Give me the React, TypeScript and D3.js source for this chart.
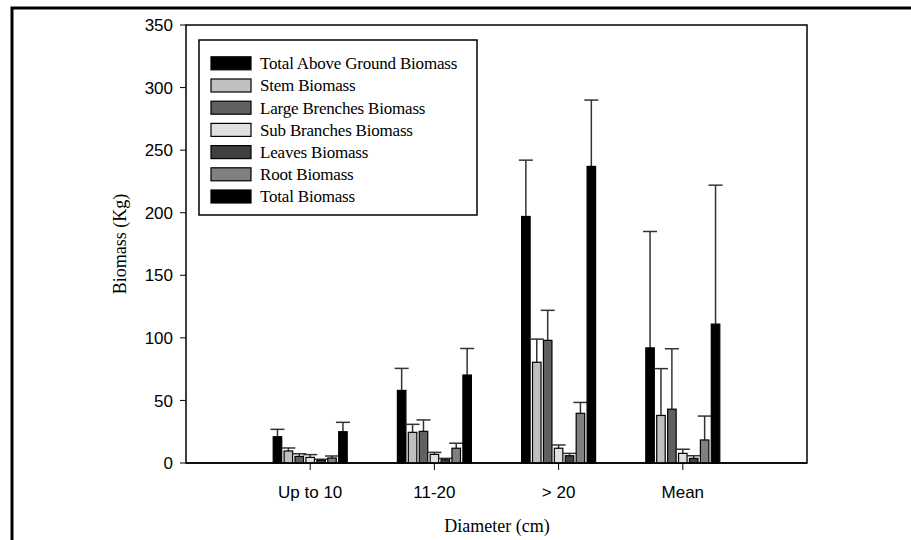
import React from 'react';
import * as d3 from 'd3';

const categories = ['Up to 10', '11-20', '> 20', 'Mean'];
const seriesNames = [
  'Total Above Ground Biomass',
  'Stem Biomass',
  'Large Brenches Biomass',
  'Sub Branches Biomass',
  'Leaves Biomass',
  'Root Biomass',
  'Total Biomass',
];
const seriesColors = ['#000000', '#c0c0c0', '#606060', '#e0e0e0', '#404040', '#808080', '#000000'];

// values per series, one per category
const tagb = [21, 58, 197, 92];
const stem = [9.6, 24.5, 80.5, 38];
const largeBranches = [5.3, 25.3, 98, 43];
const subBranches = [4.5, 6.9, 11.8, 7.7];
const leaves = [2.1, 2.6, 5.8, 3.7];
const root = [4, 11.8, 39.7, 18.4];
const total = [25, 70.3, 237, 111];

// upper end of the error bars
const tagbErr = [26.9, 75.6, 242, 185];
const stemErr = [12, 30.9, 99, 75.4];
const largeBranchesErr = [7.4, 34.4, 122, 91.3];
const subBranchesErr = [6.7, 8.5, 14.4, 11];
const leavesErr = [3, 3.7, 7.7, 5.8];
const rootErr = [5.6, 15.8, 48.4, 37.5];
const totalErr = [32.5, 91.5, 290, 222];

const values = [tagb, stem, largeBranches, subBranches, leaves, root, total];
const errors = [tagbErr, stemErr, largeBranchesErr, subBranchesErr, leavesErr, rootErr, totalErr];

const yTicks = [0, 50, 100, 150, 200, 250, 300, 350];

const App = () => {
  const width = 911;
  const height = 540;
  const left = 186, right = 807, top = 25, bottom = 463;

  const x = d3.scaleLinear().domain([0, categories.length + 1]).range([left, right]);
  const y = d3.scaleLinear().domain([0, 350]).range([bottom, top]);
  const inner = d3.scaleBand<string>().domain(seriesNames).range([-37, 37]).paddingInner(0.22);
  const bw = inner.bandwidth();
  const cap = 7;

  const sans = 'Liberation Sans, Arial, sans-serif';
  const serif = 'Liberation Serif, Times New Roman, serif';

  return (
    <div style={{ position: 'absolute', left: 0, top: 0 }}>
      <svg width={width} height={height} style={{ display: 'block', background: '#fff' }}>
        <rect x={12} y={8} width={1000} height={1000} fill="none" stroke="#000" strokeWidth={3} />

        {/* plot frame */}
        <rect x={left} y={top} width={right - left} height={bottom - top} fill="none" stroke="#000" strokeWidth={1.5} />

        {/* y axis */}
        {yTicks.map(t => (
          <g key={t}>
            <line x1={left - 6} x2={left} y1={y(t)} y2={y(t)} stroke="#000" strokeWidth={1} />
            <text x={left - 13} y={y(t)} dy="0.36em" textAnchor="end" fontFamily={sans} fontSize={17}>{t}</text>
          </g>
        ))}

        {/* x axis */}
        {categories.map((c, i) => (
          <g key={c}>
            <line x1={x(i + 1)} x2={x(i + 1)} y1={bottom} y2={bottom + 7} stroke="#000" strokeWidth={1} />
            <text x={x(i + 1)} y={498} textAnchor="middle" fontFamily={sans} fontSize={17}>{c}</text>
          </g>
        ))}

        {/* bars and error bars */}
        {seriesNames.map((s, si) => (
          <g key={s}>
            {values[si].map((v, ci) => {
              const bx = x(ci + 1) + (inner(s) as number);
              const cx = bx + bw / 2;
              return (
                <g key={ci}>
                  <line x1={cx} x2={cx} y1={y(v)} y2={y(errors[si][ci])} stroke="#333" strokeWidth={1.5} />
                  <line x1={cx - cap} x2={cx + cap} y1={y(errors[si][ci])} y2={y(errors[si][ci])} stroke="#333" strokeWidth={1.5} />
                  <rect x={bx} y={y(v)} width={bw} height={bottom - y(v)} fill={seriesColors[si]} stroke="#000" strokeWidth={1.2} />
                </g>
              );
            })}
          </g>
        ))}
        <line x1={left} x2={right} y1={bottom} y2={bottom} stroke="#000" strokeWidth={1.5} />

        {/* legend */}
        <rect x={199} y={40} width={278} height={175} fill="#fff" stroke="#000" strokeWidth={1.5} />
        {seriesNames.map((s, i) => {
          const cy = 63.3 + i * 22.2;
          return (
            <g key={s}>
              <rect x={211} y={cy - 6.5} width={40} height={13} fill={seriesColors[i]} stroke="#000" strokeWidth={1.2} />
              <text x={260} y={cy} dy="0.35em" fontFamily={serif} fontSize={17} letterSpacing={-0.2}>{s}</text>
            </g>
          );
        })}

        {/* axis titles */}
        <text transform={`translate(126,${(top + bottom) / 2}) rotate(-90)`} textAnchor="middle" fontFamily={serif} fontSize={18}>Biomass (Kg)</text>
        <text x={497} y={532} textAnchor="middle" fontFamily={serif} fontSize={18}>Diameter (cm)</text>
      </svg>
    </div>
  );
};

export default App;
